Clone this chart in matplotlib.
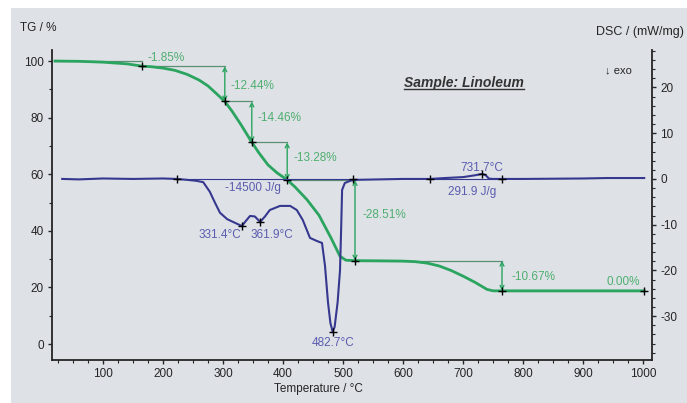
import matplotlib.pyplot as plt
from matplotlib.lines import Line2D
from matplotlib.patches import Rectangle
from matplotlib.ticker import MultipleLocator

plt.rcParams['font.family'] = ['Liberation Sans', 'DejaVu Sans']
plt.rcParams['axes.unicode_minus'] = False

# TG curve (mass %)
tg_temp = [20, 60, 100, 140, 165, 180, 200, 220, 240, 260, 275, 290, 303, 315, 330, 348,
           360, 375, 390, 407, 420, 440, 460, 480, 495, 505, 520, 560, 600, 620, 640,
           660, 680, 700, 720, 740, 750, 765, 850, 1002]
tg_mass = [100, 99.9, 99.6, 99.0, 98.2, 98.0, 97.5, 96.7, 95.3, 93.3, 91.2, 88.3, 85.7,
           82.3, 77.5, 71.3, 67.5, 63.3, 60.5, 58.0, 55.5, 51.0, 45.5, 37.5, 31.0, 29.6,
           29.46, 29.4, 29.3, 29.1, 28.6, 27.6, 26.0, 24.0, 21.8, 19.3, 18.8, 18.79,
           18.79, 18.79]

# TG evaluation steps
step_temp = [165, 303, 348, 407, 520, 765, 1002]
step_level = [100, 98.15, 85.71, 71.25, 57.97, 29.46, 18.79]
step_label = ['-1.85%', '-12.44%', '-14.46%', '-13.28%', '-28.51%', '-10.67%', '0.00%']

# DSC curve (mW/mg)
dsc_temp = [32, 60, 100, 150, 200, 223, 240, 255, 267, 278, 287, 295, 307, 320, 331.4,
            338, 345, 353, 361.9, 370, 378, 395, 412, 423, 433, 445, 457, 465, 470,
            475, 479, 482.7, 486, 491, 495, 497, 498.5, 503, 512, 520, 560, 600, 645,
            670, 700, 720, 731.7, 738, 743, 748, 765, 800, 900, 940, 1002]
dsc_val = [0, -0.1, 0.1, 0, 0.1, 0, -0.2, -0.4, -0.7, -2.8, -5.3, -7.4, -8.8, -9.6, -10.3,
           -9.2, -8.1, -8.2, -9.4, -8.2, -6.8, -5.9, -5.9, -6.8, -9.0, -12.9, -13.6, -14.0,
           -19.0, -27.0, -31.5, -33.4, -32.4, -27.0, -20.0, -10.5, -2.4, -0.9, -0.4, -0.2,
           -0.1, 0, 0, 0.2, 0.4, 0.8, 1.1, 0.8, 0.1, 0, 0, 0, 0.1, 0.2, 0.2]

# DSC evaluations
base_marks = [223, 517, 645, 765]
peak_temp = [331.4, 361.9, 482.7, 731.7]
peak_val = [-10.3, -9.4, -33.4, 1.1]
peak_label = ['331.4°C', '361.9°C', '482.7°C', '731.7°C']
area_label = ['-14500 J/g', '291.9 J/g']

green = '#2ba460'
green_txt = '#4fae6f'
ref_col = '#5d8f74'
blue = '#36378f'
blue_txt = '#5b5cae'
bg = '#dee2e7'
dark = '#252525'

fig = plt.figure(figsize=(6.87, 4.03), dpi=100)
fig.patch.set_facecolor('white')
fig.patches.append(Rectangle((11 / 687, 0), 1, 395 / 403, transform=fig.transFigure,
                             facecolor=bg, edgecolor='none', zorder=-5))

ax = fig.add_axes([52 / 687, 43 / 403, 600 / 687, 310 / 403])
ax.set_facecolor('none')
ax2 = ax.twinx()

ax.set_xlim(15, 1015)
ax.set_ylim(-5.65, 103.9)
ax2.set_ylim(-39.6, 28.2)

# DSC
ax2.plot(dsc_temp, dsc_val, color=blue, lw=1.5, zorder=3)
ax2.plot([base_marks[0], base_marks[1]], [0, 0], color=blue, lw=0.8, zorder=2)
ax2.plot([base_marks[2], base_marks[3]], [0, 0], color=blue, lw=0.8, zorder=2)
ax2.plot(base_marks, [0] * len(base_marks), ls='none', marker='+', color='black',
         ms=6, mew=1, zorder=5)
ax2.plot(peak_temp, peak_val, ls='none', marker='+', color='black', ms=6, mew=1, zorder=5)

ax2.text(295, -12.3, peak_label[0], color=blue_txt, fontsize=8.5, ha='center', va='center')
ax2.text(382, -12.3, peak_label[1], color=blue_txt, fontsize=8.5, ha='center', va='center')
ax2.text(483, -35.9, peak_label[2], color=blue_txt, fontsize=8.5, ha='center', va='center')
ax2.text(732, 2.4, peak_label[3], color=blue_txt, fontsize=8.5, ha='center', va='center')
ax2.text(350, -2.0, area_label[0], color=blue_txt, fontsize=8.5, ha='center', va='center')
ax2.text(715, -2.8, area_label[1], color=blue_txt, fontsize=8.5, ha='center', va='center')

# TG
ax.plot(tg_temp, tg_mass, color=green, lw=2, zorder=4)
for i in range(len(step_temp) - 1):
    ax.plot([step_temp[i], step_temp[i + 1]], [step_level[i + 1], step_level[i + 1]],
            color=ref_col, lw=0.9, zorder=3)
    if i > 0:
        ax.annotate('', xy=(step_temp[i], step_level[i + 1]), xytext=(step_temp[i], step_level[i]),
                    arrowprops=dict(arrowstyle='<->', color=green, lw=1, shrinkA=0, shrinkB=0,
                                    mutation_scale=7), zorder=4)
ax.plot([tg_temp[0], step_temp[0]], [100, 100], color=ref_col, lw=0.9, zorder=3)
ax.plot(step_temp, step_level[1:] + [step_level[-1]], ls='none', marker='+', color='black',
        ms=6, mew=1, zorder=6)

label_pos = [(175, 101), (312, 91.2), (358, 79.9), (417, 65.7), (533, 45.6), (780, 23.7)]
for (x, y), s in zip(label_pos, step_label[:-1]):
    ax.text(x, y, s, color=green_txt, fontsize=8.5, ha='left', va='center')
ax.text(995, 21.9, step_label[-1], color=green_txt, fontsize=8.5, ha='right', va='center')

# axes styling
for a in (ax, ax2):
    a.spines['top'].set_visible(False)
    for s in ('left', 'right', 'bottom'):
        a.spines[s].set_color(dark)
        a.spines[s].set_linewidth(1.3)
ax.spines['right'].set_visible(False)
ax2.spines['left'].set_visible(False)
ax2.spines['bottom'].set_visible(False)

ax.set_xticks(range(100, 1001, 100))
ax.xaxis.set_minor_locator(MultipleLocator(25))
ax.set_yticks(range(0, 101, 20))
ax.yaxis.set_minor_locator(MultipleLocator(10))
ax2.set_yticks(range(-30, 21, 10))
ax2.yaxis.set_minor_locator(MultipleLocator(2))
for a in (ax, ax2):
    a.tick_params(which='major', direction='out', length=3, width=1, color=dark,
                  labelsize=8.5, labelcolor=dark, pad=3)
    a.tick_params(which='minor', direction='out', length=2, width=0.8, color=dark)

fig.text(20 / 687, 1 - 28 / 403, 'TG / %', fontsize=8.5, color=dark, ha='left', va='center')
fig.text(684 / 687, 1 - 32 / 403, 'DSC / (mW/mg)', fontsize=9, color=dark, ha='right', va='center')
fig.text(318 / 687, 1 - 389 / 403, 'Temperature / °C', fontsize=8.5, color=dark,
         ha='center', va='center')
fig.text(605 / 687, 1 - 70 / 403, '↓ exo', fontsize=8, color=dark, ha='left', va='center')
title = fig.text(464 / 687, 1 - 83 / 403, 'Sample: Linoleum', fontsize=10, color='#333333',
                 fontweight='bold', fontstyle='italic', ha='center', va='center')

fig.canvas.draw()
bb = title.get_window_extent().transformed(fig.transFigure.inverted())
fig.lines.append(Line2D([bb.x0, bb.x1], [bb.y0 + 0.002, bb.y0 + 0.002], transform=fig.transFigure,
                        color='#333333', lw=1))

plt.savefig('out.png', dpi=100, facecolor=fig.get_facecolor())
